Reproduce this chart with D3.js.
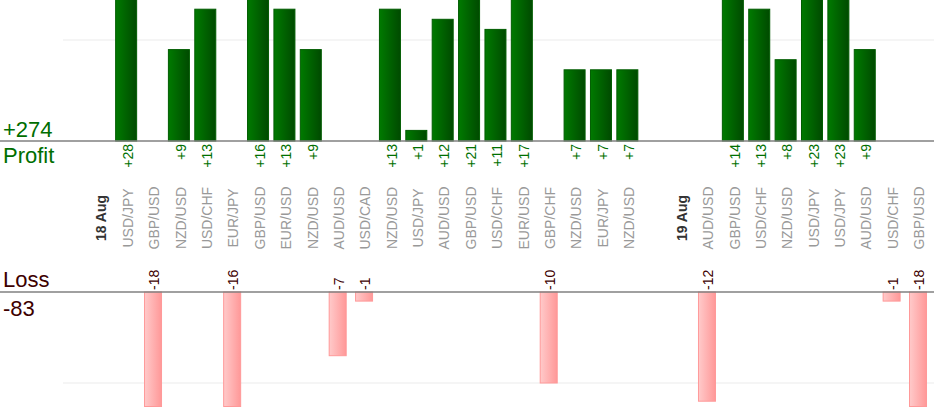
<!DOCTYPE html>
<html>
<head>
<meta charset="utf-8">
<script src="https://cdn.jsdelivr.net/npm/d3@7"></script>
<style>
  body { margin: 0; background: #fff; }
  svg { display: block; font-family: "Liberation Sans", Arial, sans-serif; }
</style>
</head>
<body>
<script>
// slots along the x axis: "" = empty slot, dates are bold markers
let labels = ["", "18 Aug",
  "USD/JPY", "GBP/USD", "NZD/USD", "USD/CHF", "EUR/JPY", "GBP/USD", "EUR/USD", "NZD/USD",
  "AUD/USD", "USD/CAD", "NZD/USD", "USD/JPY", "AUD/USD", "GBP/USD", "USD/CHF", "EUR/USD",
  "GBP/CHF", "NZD/USD", "EUR/JPY", "NZD/USD",
  "", "19 Aug",
  "AUD/USD", "GBP/USD", "USD/CHF", "NZD/USD", "USD/JPY", "USD/JPY", "AUD/USD", "USD/CHF", "GBP/USD"]

// result of each trade (null where there is no trade)
let pnl = [null, null,
  28, -18, 9, 13, -16, 16, 13, 9,
  -7, -1, 13, 1, 12, 21, 11, 17,
  -10, 7, 7, 7,
  null, null,
  -12, 14, 13, 8, 23, 23, 9, -1, -18]

let dates = ["18 Aug", "19 Aug"]

let width = 934
let height = 420

let totalProfit = d3.sum(pnl.filter(v => v > 0))
let totalLoss = d3.sum(pnl.filter(v => v < 0))

let svg = d3.select("body")
  .append("svg")
  .attr("width", width)
  .attr("height", height)

// gradients
let defs = svg.append("defs")
let gP = defs.append("linearGradient").attr("id", "gProfit")
gP.append("stop").attr("offset", "0%").attr("stop-color", "#007a00")
gP.append("stop").attr("offset", "100%").attr("stop-color", "#004a00")
let gL = defs.append("linearGradient").attr("id", "gLoss")
gL.append("stop").attr("offset", "0%").attr("stop-color", "#ffcaca")
gL.append("stop").attr("offset", "100%").attr("stop-color", "#ff9898")

// scales
let x = d3.scaleBand()
  .domain(d3.range(labels.length))
  .range([60.2, 930.7])

let yProfit = d3.scaleLinear()
  .domain([0, 10])
  .range([140.5, 39.5])

let yLoss = d3.scaleLinear()
  .domain([0, 10])
  .range([292, 383])

let profitBase = 141
let lossBase = 292
let lossBottom = 406.5

let trades = pnl.map((v, i) => ({ i: i, v: v, label: labels[i] }))
let wins = trades.filter(d => d.v > 0)
let losses = trades.filter(d => d.v < 0)

// gridlines
svg.append("line")
  .attr("x1", 63).attr("x2", width)
  .attr("y1", 40).attr("y2", 40)
  .attr("stroke", "#ebebeb")
svg.append("line")
  .attr("x1", 63).attr("x2", width)
  .attr("y1", yLoss(10)).attr("y2", yLoss(10))
  .attr("stroke", "#ebebeb")

// profit bars (cut at the top of the picture)
let pw = 21
let barTop = d => Math.max(-2, yProfit(d.v))
svg.selectAll(".win")
  .data(wins)
  .enter()
  .append("rect")
  .attr("class", "win")
  .attr("x", d => x(d.i) + x.bandwidth() / 2 - pw / 2)
  .attr("y", barTop)
  .attr("width", pw)
  .attr("height", d => profitBase - barTop(d))
  .attr("fill", "url(#gProfit)")
  .attr("stroke", "#005c00")
  .attr("stroke-width", 1)

// loss bars
let lw = 17
svg.selectAll(".loss")
  .data(losses)
  .enter()
  .append("rect")
  .attr("class", "loss")
  .attr("x", d => x(d.i) + x.bandwidth() / 2 - lw / 2 + 0.5)
  .attr("y", lossBase)
  .attr("width", lw)
  .attr("height", d => Math.min(lossBottom, yLoss(-d.v)) - lossBase)
  .attr("fill", "url(#gLoss)")
  .attr("stroke", "#ff9999")
  .attr("stroke-width", 1)

// baselines
svg.append("line")
  .attr("x1", 0).attr("x2", width)
  .attr("y1", profitBase).attr("y2", profitBase)
  .attr("stroke", "#808080").attr("stroke-width", 1.5)
svg.append("line")
  .attr("x1", 0).attr("x2", width)
  .attr("y1", lossBase).attr("y2", lossBase)
  .attr("stroke", "#808080").attr("stroke-width", 1.5)

let cx = d => x(d.i) + x.bandwidth() / 2 + 1.8

// value labels
svg.selectAll(".winLabel")
  .data(wins)
  .enter()
  .append("text")
  .attr("transform", d => "translate(" + cx(d) + "," + 144 + ") rotate(-90)")
  .attr("dy", "0.35em")
  .attr("text-anchor", "end")
  .attr("font-size", 14)
  .attr("fill", "#007000")
  .text(d => "+" + d.v)

svg.selectAll(".lossLabel")
  .data(losses)
  .enter()
  .append("text")
  .attr("transform", d => "translate(" + cx(d) + "," + 290 + ") rotate(-90)")
  .attr("dy", "0.35em")
  .attr("text-anchor", "start")
  .attr("font-size", 14)
  .attr("fill", "#3d0000")
  .text(d => d.v)

// category labels
svg.selectAll(".cat")
  .data(trades.filter(d => d.label !== ""))
  .enter()
  .append("text")
  .attr("transform", d => "translate(" + cx(d) + "," + 218 + ") rotate(-90)")
  .attr("dy", "0.35em")
  .attr("text-anchor", "middle")
  .attr("font-size", 14)
  .attr("font-weight", d => dates.includes(d.label) ? "bold" : "normal")
  .attr("fill", d => dates.includes(d.label) ? "#333" : "#999")
  .text(d => d.label)

// totals
svg.append("text")
  .attr("x", 3).attr("y", 137)
  .attr("font-size", 22).attr("fill", "#006e00")
  .text("+" + totalProfit)
svg.append("text")
  .attr("x", 3).attr("y", 163)
  .attr("font-size", 22).attr("fill", "#006e00")
  .text("Profit")
svg.append("text")
  .attr("x", 3).attr("y", 287)
  .attr("font-size", 22).attr("fill", "#3d0000")
  .text("Loss")
svg.append("text")
  .attr("x", 3).attr("y", 316)
  .attr("font-size", 22).attr("fill", "#3d0000")
  .text(totalLoss)
</script>
</body>
</html>
